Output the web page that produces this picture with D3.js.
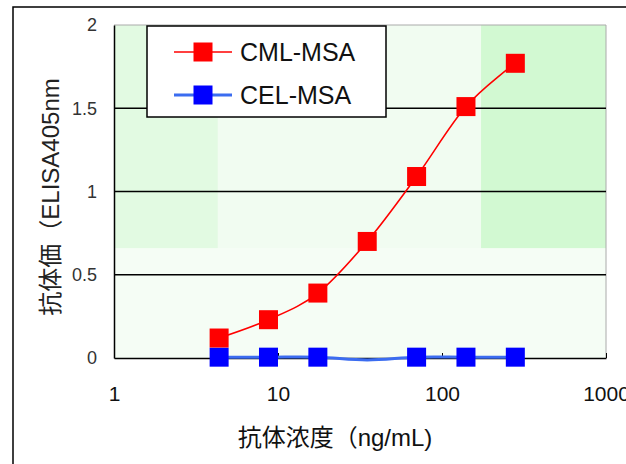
<!DOCTYPE html>
<html>
<head>
<meta charset="utf-8">
<script src="https://cdn.jsdelivr.net/npm/d3@7"></script>
<style>
body { margin: 0; background: #fff; }
svg { display: block; font-family: "Liberation Sans", "Noto Sans CJK JP", sans-serif; }
</style>
</head>
<body>
<script>
// データ（抗体濃度 ng/mL と吸光度）
var concentration = [4.375, 8.75, 17.5, 35, 70, 140, 280];
var cmlValues = [0.12, 0.23, 0.39, 0.70, 1.09, 1.51, 1.77];
var celValues = [0.005, 0.005, 0.005, -0.012, 0.005, 0.005, 0.005];
var seriesNames = ['CML-MSA', 'CEL-MSA'];
var xTicks = [1, 10, 100, 1000];
var yTicks = [0, 0.5, 1, 1.5, 2];

var width = 626, height = 464;
var plotLeft = 114, plotRight = 606, plotTop = 25, plotBottom = 358;

var svg = d3.select('body').append('svg')
	.attr('width', width)
	.attr('height', height);

var x = d3.scaleLog().domain([1, 1000]).range([plotLeft, plotRight]);
var y = d3.scaleLinear().domain([0, 2]).range([plotBottom, plotTop]);

// 外枠
svg.append('path')
	.attr('d', 'M13,' + height + 'V7H' + width)
	.attr('fill', 'none')
	.attr('stroke', '#000')
	.attr('stroke-width', 1.5);

// プロットエリアの背景
svg.append('rect')
	.attr('x', plotLeft).attr('y', plotTop)
	.attr('width', plotRight - plotLeft).attr('height', plotBottom - plotTop)
	.attr('fill', '#f5fdf5');

var bands = [
	{ x0: 1, x1: 4.3, color: '#e2fae2' },
	{ x0: 4.3, x1: 173, color: '#f1fcf1' },
	{ x0: 173, x1: 1000, color: '#d2f9d2' }
];
svg.selectAll('.band')
	.data(bands)
	.enter()
	.append('rect')
	.attr('x', function(d) { return x(d.x0); })
	.attr('width', function(d) { return x(d.x1) - x(d.x0); })
	.attr('y', y(2))
	.attr('height', y(0.66) - y(2))
	.attr('fill', function(d) { return d.color; });

// 枠（上と右は灰色）
svg.append('path')
	.attr('d', 'M' + plotLeft + ',' + plotTop + 'H' + plotRight + 'V' + plotBottom)
	.attr('fill', 'none')
	.attr('stroke', '#aaa')
	.attr('stroke-width', 1);

// グリッド線
svg.selectAll('.grid')
	.data([0.5, 1, 1.5])
	.enter()
	.append('line')
	.attr('x1', plotLeft).attr('x2', plotRight)
	.attr('y1', function(d) { return y(d); })
	.attr('y2', function(d) { return y(d); })
	.attr('stroke', '#000')
	.attr('stroke-width', 1.3);

// 軸
var xAxis = svg.append('g')
	.attr('transform', 'translate(0,' + plotBottom + ')')
	.call(d3.axisBottom(x).tickValues(xTicks).tickSizeInner(-5).tickSizeOuter(0).tickFormat(d3.format('d')));
xAxis.select('.domain').attr('stroke-width', 1.5);
xAxis.selectAll('text')
	.attr('y', 28)
	.attr('fill', '#111')
	.style('font-size', '21px');

var yAxis = svg.append('g')
	.attr('transform', 'translate(' + plotLeft + ',0)')
	.call(d3.axisLeft(y).tickValues(yTicks).tickSize(0).tickFormat(d3.format('')));
yAxis.select('.domain').attr('stroke-width', 1.5);
yAxis.selectAll('text')
	.attr('x', -17)
	.attr('fill', '#333')
	.style('font-size', '18px');

// 系列
var line = d3.line()
	.x(function(d) { return x(d[0]); })
	.y(function(d) { return y(d[1]); })
	.curve(d3.curveCardinal.tension(0));

var series = [
	{ name: seriesNames[0], values: cmlValues, line: '#ff0000', lineWidth: 1.6, marker: '#ff0000' },
	{ name: seriesNames[1], values: celValues, line: '#3b6cf0', lineWidth: 3, marker: '#0000ff' }
];

series.slice().reverse().forEach(function(s) {
	var pts = concentration.map(function(c, i) { return [c, s.values[i]]; });
	svg.append('path')
		.attr('d', line(pts))
		.attr('fill', 'none')
		.attr('stroke', s.line)
		.attr('stroke-width', s.lineWidth);
});

var m = 19;
series.slice().reverse().forEach(function(s) {
	// 軸範囲外の点にはマーカーを描かない
	var pts = concentration.map(function(c, i) { return [c, s.values[i]]; })
		.filter(function(d) { return d[1] >= 0; });
	svg.selectAll(null)
		.data(pts)
		.enter()
		.append('rect')
		.attr('x', function(d) { return x(d[0]) - m / 2; })
		.attr('y', function(d) { return y(d[1]) - m / 2; })
		.attr('width', m).attr('height', m)
		.attr('fill', s.marker);
});

// 凡例
var legend = svg.append('g');
legend.append('rect')
	.attr('x', 147).attr('y', 26)
	.attr('width', 239).attr('height', 91)
	.attr('fill', '#fff')
	.attr('stroke', '#000')
	.attr('stroke-width', 1.5);

series.forEach(function(s, i) {
	var ly = 52 + i * 43;
	legend.append('line')
		.attr('x1', 174).attr('x2', 232)
		.attr('y1', ly).attr('y2', ly)
		.attr('stroke', s.line)
		.attr('stroke-width', s.lineWidth);
	legend.append('rect')
		.attr('x', 203 - m / 2).attr('y', ly - m / 2)
		.attr('width', m).attr('height', m)
		.attr('fill', s.marker);
	legend.append('text')
		.attr('x', 240).attr('y', ly)
		.attr('dy', '0.36em')
		.style('font-size', '25px')
		.attr('fill', '#111')
		.text(s.name);
});

// 軸タイトル
svg.append('text')
	.attr('transform', 'translate(59,197) rotate(-90)')
	.attr('text-anchor', 'middle')
	.style('font-size', '24px')
	.attr('fill', '#222')
	.text('抗体価（ELISA405nm');

svg.append('text')
	.attr('x', 335).attr('y', 446)
	.attr('text-anchor', 'middle')
	.style('font-size', '24px')
	.attr('fill', '#111')
	.text('抗体浓度（ng/mL)');
</script>
</body>
</html>
